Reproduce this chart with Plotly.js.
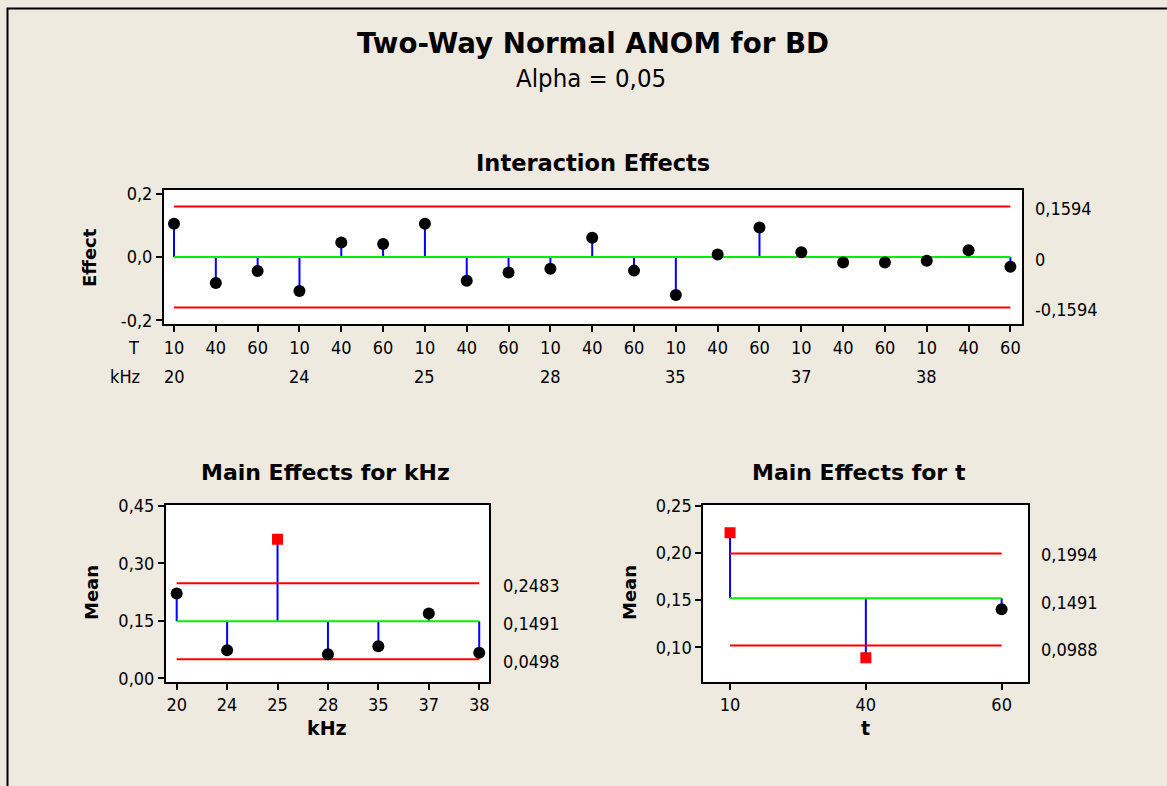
<!DOCTYPE html>
<html>
<head>
<meta charset="utf-8">
<script src="https://cdn.plot.ly/plotly-3.0.1.min.js"></script>
<style>
html,body{margin:0;padding:0;background:#EEEAE0;overflow:hidden;}
#chart{width:1167px;height:786px;}
</style>
</head>
<body>
<div id="chart"></div>
<script>
// ---------------- data ----------------
const intT = ['10','40','60','10','40','60','10','40','60','10','40','60','10','40','60','10','40','60','10','40','60'];
const intKHz = ['20','24','25','28','35','37','38'];
const intEffect = [0.105,-0.082,-0.044,-0.107,0.046,0.041,0.105,-0.075,-0.049,-0.037,0.061,-0.043,-0.120,0.008,0.093,0.015,-0.017,-0.017,-0.012,0.021,-0.031];
const intLimits = [-0.1594, 0, 0.1594];
const intLimitLabels = ['-0,1594', '0', '0,1594'];
const intYTicks = [-0.2, 0, 0.2];
const intYTickText = ['-0,2', '0,0', '0,2'];

const kHzLevels = ['20','24','25','28','35','37','38'];
const kHzMeans = [0.2215, 0.073, 0.363, 0.0626, 0.0834, 0.169, 0.0669];
const kHzLimits = [0.0498, 0.1491, 0.2483];
const kHzLimitLabels = ['0,0498', '0,1491', '0,2483'];
const kHzYTicks = [0, 0.15, 0.30, 0.45];
const kHzYTickText = ['0,00', '0,15', '0,30', '0,45'];

const tLevels = ['10','40','60'];
const tMeans = [0.2215, 0.089, 0.1404];
const tLimitLines = [0.1018, 0.1521, 0.1996];
const tLimitLabelPos = [0.0988, 0.1491, 0.1994];
const tLimitLabels = ['0,0988', '0,1491', '0,1994'];
const tYTicks = [0.10, 0.15, 0.20, 0.25];
const tYTickText = ['0,10', '0,15', '0,20', '0,25'];

// ---------------- helpers ----------------
const W = 1167, H = 786;
const px = x => x / W;
const py = y => 1 - y / H;
const REG = '"DejaVu Sans Condensed", "DejaVu Sans", sans-serif';
const BOLD = '"DejaVu Sans", sans-serif';
const RED = '#FF0000', GREEN = '#00F000', BLUE = '#0000FF';

function idx(n){ return Array.from({length:n}, (_, i) => i); }

function stemTrace(vals, center, xa, ya){
  const x = [], y = [];
  vals.forEach((v, i) => { x.push(i, i, null); y.push(center, v, null); });
  return {type:'scatter', mode:'lines', x, y, xaxis:xa, yaxis:ya,
          line:{color:BLUE, width:2}, hoverinfo:'skip', showlegend:false};
}
function hline(val, n, color, xa, ya){
  return {type:'scatter', mode:'lines', x:[0, n-1], y:[val, val], xaxis:xa, yaxis:ya,
          line:{color:color, width:2}, hoverinfo:'skip', showlegend:false};
}
function markerTrace(vals, lo, hi, xa, ya){
  const out = vals.map(v => v > hi || v < lo);
  return {type:'scatter', mode:'markers', x:idx(vals.length), y:vals, xaxis:xa, yaxis:ya,
          marker:{symbol: out.map(o => o ? 'square' : 'circle'),
                  color: out.map(o => o ? RED : '#000000'),
                  size: out.map(o => o ? 11 : 12), opacity:1, line:{width:0}},
          hoverinfo:'skip', showlegend:false};
}

const traces = [
  stemTrace(intEffect, intLimits[1], 'x', 'y'),
  hline(intLimits[0], intEffect.length, RED, 'x', 'y'),
  hline(intLimits[2], intEffect.length, RED, 'x', 'y'),
  hline(intLimits[1], intEffect.length, GREEN, 'x', 'y'),
  markerTrace(intEffect, intLimits[0], intLimits[2], 'x', 'y'),

  stemTrace(kHzMeans, kHzLimits[1], 'x2', 'y2'),
  hline(kHzLimits[0], kHzMeans.length, RED, 'x2', 'y2'),
  hline(kHzLimits[2], kHzMeans.length, RED, 'x2', 'y2'),
  hline(kHzLimits[1], kHzMeans.length, GREEN, 'x2', 'y2'),
  markerTrace(kHzMeans, kHzLimits[0], kHzLimits[2], 'x2', 'y2'),

  stemTrace(tMeans, tLimitLines[1], 'x3', 'y3'),
  hline(tLimitLines[0], tMeans.length, RED, 'x3', 'y3'),
  hline(tLimitLines[2], tMeans.length, RED, 'x3', 'y3'),
  hline(tLimitLines[1], tMeans.length, GREEN, 'x3', 'y3'),
  markerTrace(tMeans, tLimitLines[0], tLimitLines[2], 'x3', 'y3')
];

const axBase = {showline:true, linecolor:'#000', linewidth:2, mirror:true,
  ticks:'outside', ticklen:6, tickwidth:2, tickcolor:'#000', showgrid:false, zeroline:false,
  tickfont:{family:REG, size:18, color:'#000'}, fixedrange:true, tickmode:'array'};

const layout = {
  width:W, height:H, margin:{l:0, r:0, t:0, b:0},
  paper_bgcolor:'#EEEAE0', plot_bgcolor:'#FFFFFF', showlegend:false,
  xaxis: Object.assign({}, axBase, {domain:[px(164), px(1021.7)], range:[-0.239, 20.27], anchor:'y',
          tickvals: idx(intT.length), ticktext: intT}),
  yaxis: Object.assign({}, axBase, {domain:[py(324.3), py(190)], range:[-0.2125, 0.2116], anchor:'x',
          tickvals: intYTicks, ticktext: intYTickText}),
  xaxis2: Object.assign({}, axBase, {domain:[px(166), px(489.3)], range:[-0.212, 6.2], anchor:'y2',
          tickvals: idx(kHzLevels.length), ticktext: kHzLevels}),
  yaxis2: Object.assign({}, axBase, {domain:[py(681.7), py(505)], range:[-0.0089, 0.4526], anchor:'x2',
          tickvals: kHzYTicks, ticktext: kHzYTickText}),
  xaxis3: Object.assign({}, axBase, {domain:[px(703.3), px(1027.7)], range:[-0.197, 2.192], anchor:'y3',
          tickvals: idx(tLevels.length), ticktext: tLevels}),
  yaxis3: Object.assign({}, axBase, {domain:[py(681.7), py(505)], range:[0.0635, 0.251], anchor:'x3',
          tickvals: tYTicks, ticktext: tYTickText}),
  shapes: [
    {type:'rect', xref:'paper', yref:'paper', x0:px(7.5), x1:1.05, y0:-0.05, y1:py(8.5),
     line:{color:'#000', width:2}, fillcolor:'rgba(0,0,0,0)', layer:'above'}
  ],
  annotations: []
};

const A = layout.annotations;
function txt(text, x, y, opts){
  A.push(Object.assign({text, x:px(x), y:py(y), xref:'paper', yref:'paper', showarrow:false,
    xanchor:'center', yanchor:'middle', font:{family:REG, size:18, color:'#000'}}, opts || {}));
}
const bold = (s) => ({family:BOLD, size:s, color:'#000', weight:700});

// titles
txt('Two-Way Normal ANOM for BD', 593, 44, {font: bold(27.7)});
txt('Alpha = 0,05', 591, 78, {font:{family:REG, size:25.5, color:'#000'}});
txt('Interaction Effects', 593, 163, {font: bold(22.5)});
txt('Main Effects for kHz', 325, 472, {font: bold(22)});
txt('Main Effects for t', 859, 472, {font: bold(22)});
// axis titles
txt('Effect', 89, 258, {font: bold(18), textangle:-90});
txt('Mean', 91, 593, {font: bold(18), textangle:-90});
txt('Mean', 629, 593, {font: bold(18), textangle:-90});
txt('kHz', 327, 728, {font: bold(19)});
txt('t', 865, 728, {font: bold(19)});
// row labels of interaction axis
txt('T', 141, 347, {xanchor:'right'});
txt('kHz', 142, 376, {xanchor:'right'});
// second row: kHz levels under the first T of each group
intKHz.forEach((k, g) => {
  A.push({text:k, x:g*3, y:py(376), xref:'x', yref:'paper', showarrow:false,
          xanchor:'center', yanchor:'middle', font:{family:REG, size:18, color:'#000'}});
});
// limit labels on the right
function limLabels(vals, labels, xPix, yref, shift){
  vals.forEach((v, i) => {
    A.push({text:labels[i], x:px(xPix), y:v, xref:'paper', yref:yref, showarrow:false,
            xanchor:'left', yanchor:'middle', yshift:shift, font:{family:REG, size:18, color:'#000'}});
  });
}
limLabels(intLimits, intLimitLabels, 1033, 'y', -2);
limLabels(kHzLimits, kHzLimitLabels, 501, 'y2', -2);
limLabels(tLimitLabelPos, tLimitLabels, 1039, 'y3', -1);

Plotly.newPlot('chart', traces, layout, {displayModeBar:false, staticPlot:true});
</script>
</body>
</html>
